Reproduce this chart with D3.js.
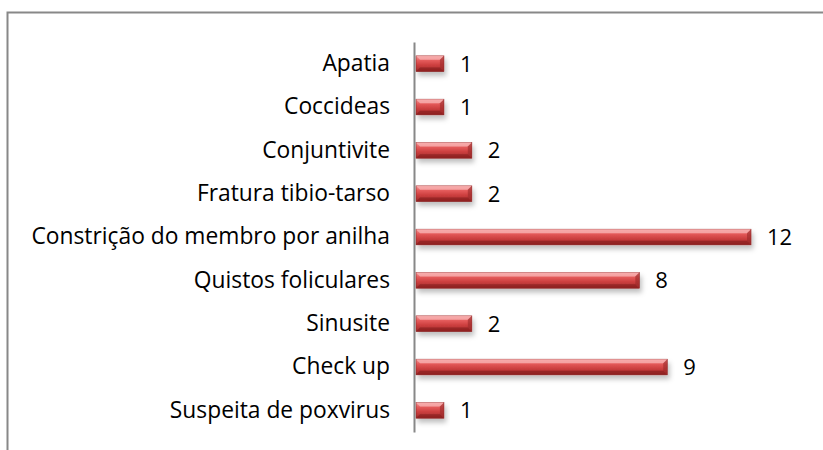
<!DOCTYPE html>
<html>
<head>
<meta charset="utf-8">
<script src="https://cdn.jsdelivr.net/npm/d3@7"></script>
<style>
  body { margin: 0; background: #fff; }
  text { font-family: "Open Sans", sans-serif; fill: #000; }
</style>
</head>
<body>
<div id="chart"></div>
<script>
// data
const categories = ["Apatia", "Coccideas", "Conjuntivite", "Fratura tibio-tarso",
  "Constrição do membro por anilha", "Quistos foliculares", "Sinusite", "Check up",
  "Suspeita de poxvirus"];
const values = [1, 1, 2, 2, 12, 8, 2, 9, 1];

const W = 823, H = 450;
const margin = {top: 42, right: 72, bottom: 18, left: 416};
const width = W - margin.left - margin.right,
      height = H - margin.top - margin.bottom;

const svg = d3.select("#chart").append("svg")
  .attr("width", W).attr("height", H);

// gradient + shadow for the bevelled bars
const defs = svg.append("defs");
const grad = defs.append("linearGradient").attr("id", "barGrad")
  .attr("x1", 0).attr("y1", 0).attr("x2", 0).attr("y2", 1);
[["0%", "#f59a9a"], ["30%", "#e45a5a"], ["60%", "#cc3f3f"], ["100%", "#9e2a2a"]]
  .forEach(s => grad.append("stop").attr("offset", s[0]).attr("stop-color", s[1]));
const f = defs.append("filter").attr("id", "shadow")
  .attr("x", "-10%").attr("y", "-30%").attr("width", "130%").attr("height", "200%");
f.append("feDropShadow").attr("dx", 2).attr("dy", 4).attr("stdDeviation", 2.5)
  .attr("flood-color", "#000").attr("flood-opacity", 0.25);

// outer border (only top and left visible in the reference)
svg.append("path")
  .attr("d", `M7.5,${H} V12.5 H${W}`)
  .attr("fill", "none").attr("stroke", "#888").attr("stroke-width", 2);

const g = svg.append("g").attr("transform", `translate(${margin.left},${margin.top})`);

const x = d3.scaleLinear().domain([0, 12]).range([0, 335]);
const y = d3.scaleBand().domain(categories).range([0, height]).paddingInner(0.64).paddingOuter(0.32);

// bars
const bars = g.selectAll(".bar").data(values).enter().append("g")
  .attr("transform", (d, i) => `translate(0,${y(categories[i])})`)
  .attr("filter", "url(#shadow)");

bars.append("rect")
  .attr("x", 0).attr("y", 0)
  .attr("width", d => x(d)).attr("height", y.bandwidth())
  .attr("fill", "url(#barGrad)")
  .attr("stroke", "#8e2626").attr("stroke-width", 0.6);

// bevel highlight at top and darker bottom edge
bars.append("path")
  .attr("d", d => { const w = x(d), h = y.bandwidth(), b = 4;
    return `M0,0 H${w} L${w - b},${b} H${b} Z`; })
  .attr("fill", "#f8b0b0").attr("opacity", 0.8);
bars.append("path")
  .attr("d", d => { const w = x(d), h = y.bandwidth(), b = 4;
    return `M0,${h} H${w} L${w - b},${h - b} H${b} Z`; })
  .attr("fill", "#8a2020").attr("opacity", 0.7);
bars.append("path")
  .attr("d", d => { const w = x(d), h = y.bandwidth(), b = 4;
    return `M${w},0 V${h} L${w - b},${h - b} V${b} Z`; })
  .attr("fill", "#9a2a2a").attr("opacity", 0.6);

// value labels
g.selectAll(".val").data(values).enter().append("text")
  .attr("x", d => x(d) + 16)
  .attr("y", (d, i) => y(categories[i]) + y.bandwidth() / 2)
  .attr("dy", "0.36em")
  .style("font-size", "22px")
  .text(d => d);

// category axis
const yAxis = g.append("g").attr("transform", "translate(-2,0)")
  .call(d3.axisLeft(y).tickSize(0).tickPadding(24));
yAxis.select(".domain").attr("stroke", "#888").attr("stroke-width", 2);
yAxis.selectAll("text").style("font-size", "22.8px").attr("fill", "#000");
</script>
</body>
</html>
